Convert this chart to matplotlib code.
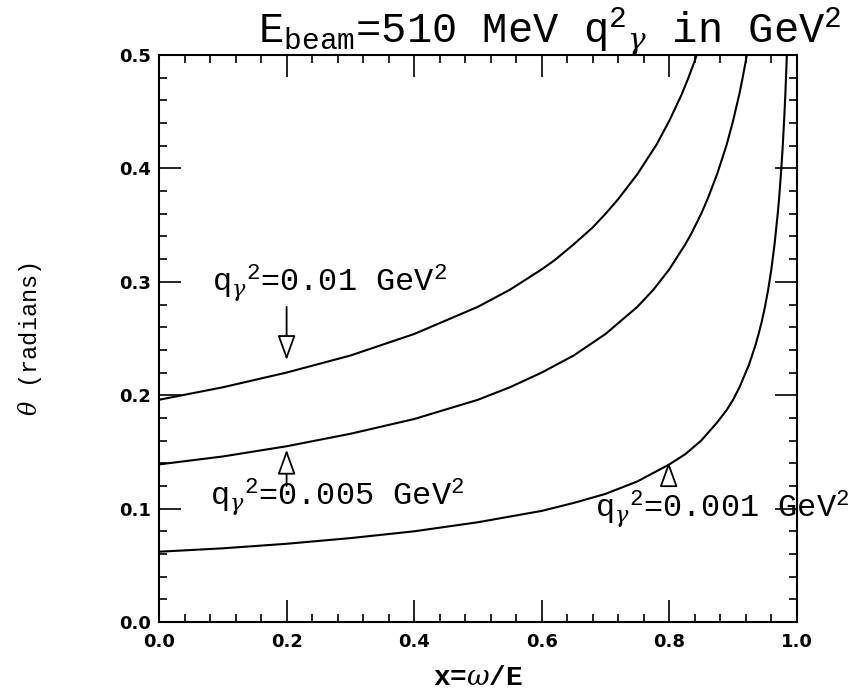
import matplotlib
matplotlib.use('Agg')
import matplotlib.pyplot as plt
from matplotlib.ticker import MultipleLocator, FormatStrFormatter

# photon emission angle theta vs x = omega/E for E_beam = 510 MeV
x_hi = [0.0, 0.1, 0.2, 0.3, 0.4, 0.5, 0.55, 0.6, 0.62, 0.65, 0.68, 0.7, 0.72,
        0.75, 0.78, 0.8, 0.82, 0.83, 0.84, 0.85]
theta_hi = [0.196, 0.207, 0.220, 0.235, 0.254, 0.278, 0.293, 0.311, 0.319, 0.333,
            0.348, 0.360, 0.373, 0.395, 0.421, 0.442, 0.466, 0.480, 0.495, 0.512]

x_mid = [0.0, 0.1, 0.2, 0.3, 0.4, 0.5, 0.55, 0.6, 0.65, 0.7, 0.75, 0.775, 0.8,
         0.825, 0.835, 0.85, 0.86, 0.875, 0.89, 0.9, 0.91, 0.915, 0.92, 0.925]
theta_mid = [0.139, 0.146, 0.155, 0.166, 0.179, 0.196, 0.207, 0.220, 0.235, 0.254,
             0.278, 0.293, 0.311, 0.333, 0.343, 0.360, 0.373, 0.395, 0.421, 0.442,
             0.466, 0.480, 0.495, 0.512]

x_lo = [0.0, 0.1, 0.2, 0.3, 0.4, 0.5, 0.6, 0.65, 0.7, 0.75, 0.8, 0.825, 0.85,
        0.875, 0.89, 0.9, 0.91, 0.925, 0.935, 0.94, 0.945, 0.95, 0.955, 0.96,
        0.965, 0.97, 0.9725, 0.975, 0.9775, 0.98, 0.982, 0.984, 0.985]
theta_lo = [0.062, 0.065, 0.069, 0.074, 0.080, 0.088, 0.098, 0.105, 0.113, 0.124,
            0.139, 0.148, 0.160, 0.176, 0.187, 0.196, 0.207, 0.227, 0.244, 0.254,
            0.265, 0.278, 0.293, 0.311, 0.333, 0.360, 0.376, 0.395, 0.416, 0.442,
            0.466, 0.495, 0.512]

labels = [r'q$_\gamma$$^2$=0.01 GeV$^2$', r'q$_\gamma$$^2$=0.005 GeV$^2$',
          r'q$_\gamma$$^2$=0.001 GeV$^2$']

plt.rcParams['mathtext.fontset'] = 'custom'
plt.rcParams['mathtext.rm'] = 'Liberation Mono'
plt.rcParams['mathtext.it'] = 'DejaVu Serif:italic'

fig = plt.figure(figsize=(8.55, 6.94), dpi=100)
ax = fig.add_axes([0.186, 0.1037, 0.746, 0.817])

for xs, ts in [(x_hi, theta_hi), (x_mid, theta_mid), (x_lo, theta_lo)]:
    ax.plot(xs, ts, color='black', linewidth=1.5)

ax.set_xlim(0, 1.0)
ax.set_ylim(0, 0.5)
ax.xaxis.set_major_locator(MultipleLocator(0.2))
ax.xaxis.set_minor_locator(MultipleLocator(0.04))
ax.yaxis.set_major_locator(MultipleLocator(0.1))
ax.yaxis.set_minor_locator(MultipleLocator(0.02))
ax.xaxis.set_major_formatter(FormatStrFormatter('%.1f'))
ax.yaxis.set_major_formatter(FormatStrFormatter('%.1f'))
ax.tick_params(which='both', direction='in', top=True, right=True, width=1.2)
ax.tick_params(which='major', length=16)
ax.tick_params(which='minor', length=6)
ax.tick_params(axis='x', pad=8)
ax.tick_params(axis='y', pad=6)
for lab in ax.get_xticklabels() + ax.get_yticklabels():
    lab.set_fontweight('bold')
    lab.set_fontsize(13)
for sp in ax.spines.values():
    sp.set_linewidth(1.5)

ax.set_xlabel(r'x=$\omega$/E', fontsize=20, family='Liberation Mono',
              fontweight='bold', labelpad=10)
ax.set_ylabel(r'$\theta$ (radians)', fontsize=17, family='Liberation Mono',
              labelpad=54)

fig.text(258 / 855, 1 - 43 / 694,
         r'E$_{\rm beam}$=510 MeV q$^2$$_\gamma$ in GeV$^2$',
         fontsize=30.3, family='Liberation Mono', va='baseline', ha='left')

txt = dict(fontsize=23, family='Liberation Mono', va='baseline', ha='left')
ax.text(0.083, 0.291, labels[0], **txt)
ax.text(0.08, 0.103, labels[1], **txt)
ax.text(0.684, 0.092, labels[2], **txt)

arrow = dict(arrowstyle='-|>,head_length=1.1,head_width=0.4', fc='white',
             ec='black', lw=1.3, shrinkA=0, shrinkB=0, mutation_scale=14)
ax.annotate('', xy=(0.2, 0.231), xytext=(0.2, 0.278), arrowprops=arrow)
ax.annotate('', xy=(0.2, 0.152), xytext=(0.2, 0.120), arrowprops=arrow)
ax.annotate('', xy=(0.799, 0.141), xytext=(0.799, 0.123), arrowprops=arrow)

fig.savefig('out.png', dpi=100)
